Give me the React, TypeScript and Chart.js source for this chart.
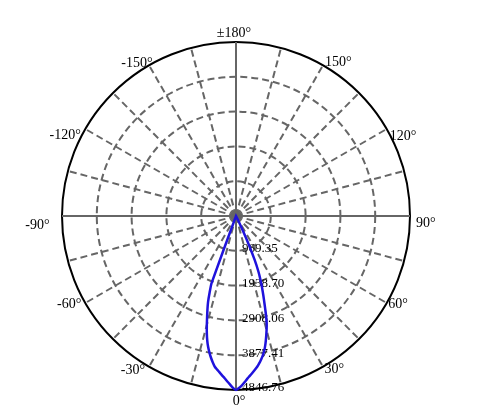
import React, { useEffect, useRef } from "react";
import { Chart, registerables } from "chart.js";

Chart.register(...registerables);

// radial grid, cd
const radialTicks = [0, 969.35, 1938.7, 2908.06, 3877.41, 4846.76];
const radialTickLabels = ["", "969.35", "1938.70", "2908.06", "3877.41", "4846.76"];

// angle labels, degrees (0 at the bottom, +90 on the right)
const angleTicks = [180, 150, 120, 90, 60, 30, 0, -30, -60, -90, -120, -150];
const angleTickLabels = ["±180°", "150°", "120°", "90°", "60°", "30°", "0°", "-30°", "-60°", "-90°", "-120°", "-150°"];

// intensity curve: gamma (deg) -> cd
const beamAngles = [
  180, 150, 120, 90, 60, 30, 28, 27, 26, 25, 24, 23, 22, 21, 20, 19, 18, 17, 16,
  15, 14, 13, 12, 11, 10, 9, 8, 7, 6, 5, 4, 3, 2, 1, 0, -1, -2, -3, -4, -5, -6,
  -7, -8, -9, -10, -11, -12, -13, -14, -15, -16, -17, -18, -19, -20, -21, -22,
  -30, -60, -90, -120, -150,
];
const beamValues = [
  0, 0, 0, 0, 0, 0, 0, 40, 200, 520, 920, 1330, 1660, 1900, 2120, 2340, 2570,
  2840, 3100, 3290, 3470, 3650, 3810, 3940, 4050, 4150, 4240, 4315, 4390, 4465,
  4540, 4630, 4720, 4790, 4846.76, 4790, 4700, 4615, 4530, 4455, 4380, 4310,
  4240, 4130, 4010, 3875, 3730, 3560, 3360, 3140, 2920, 2720, 2520, 2260, 1990,
  0, 0, 0, 0, 0, 0, 0,
];

// one radar slot per degree, 180 at the top, clockwise
const slotAngles: number[] = [];
for (let i = 0; i < 360; i++) slotAngles.push(180 - i);

// text placement next to the outer circle: [align, dx, dy]
const labelStyle: Record<number, [CanvasTextAlign, number, number]> = {
  180: ["center", -2, -9],
  150: ["left", 2, -2.5],
  120: ["left", 3, 7],
  90: ["left", 6, 7.5],
  60: ["left", 1.5, 1.5],
  30: ["left", 1.5, 3],
  0: ["center", 3, 11],
  "-30": ["right", -4, 3.5],
  "-60": ["right", -4, 1.5],
  "-90": ["right", -12.5, 9],
  "-120": ["right", -4.5, 6.5],
  "-150": ["right", 3.5, -1.5],
};

const gridGray = "#666666";
const dash = [7, 4];

const polarText = {
  id: "polarText",
  beforeDatasetsDraw(chart: any) {
    const scale = chart.scales.r;
    const ctx = chart.ctx;
    const R = scale.drawingArea;
    ctx.save();
    ctx.fillStyle = "#000";
    ctx.textBaseline = "middle";
    ctx.font = '14px "Liberation Serif", "Times New Roman", serif';
    angleTicks.forEach((a, k) => {
      const p = scale.getPointPosition(slotAngles.indexOf(a), R);
      const [align, dx, dy] = labelStyle[a];
      ctx.textAlign = align;
      ctx.fillText(angleTickLabels[k], p.x + dx, p.y + dy);
    });
    ctx.font = '13px "Liberation Serif", "Times New Roman", serif';
    ctx.textAlign = "left";
    const down = slotAngles.indexOf(0);
    radialTicks.forEach((v, k) => {
      if (!radialTickLabels[k]) return;
      const p = scale.getPointPosition(down, scale.getDistanceFromCenterForValue(v));
      ctx.fillText(radialTickLabels[k], p.x + 6, p.y - 2);
    });
    ctx.restore();
  },
};

export const PolarCurve: React.FC = () => {
  const canvasRef = useRef<HTMLCanvasElement | null>(null);
  const chartRef = useRef<Chart | null>(null);

  useEffect(() => {
    const ctx = canvasRef.current?.getContext("2d");
    if (!ctx) return;
    if (chartRef.current) chartRef.current.destroy();

    const curve = slotAngles.map((a) => {
      const k = beamAngles.indexOf(a);
      return k >= 0 ? beamValues[k] : null;
    });
    const last = radialTicks.length - 1;

    chartRef.current = new Chart(ctx, {
      type: "radar",
      data: {
        labels: slotAngles.map((a) => a + "°"),
        datasets: [
          {
            label: "C0-C180",
            data: curve,
            borderColor: "#1f12dc",
            borderWidth: 2.5,
            pointRadius: 0,
            fill: false,
            spanGaps: true,
            tension: 0.15,
          },
        ],
      },
      options: {
        animation: false,
        responsive: true,
        maintainAspectRatio: false,
        layout: { padding: { left: 62, right: 70, top: 42, bottom: 26 } },
        plugins: {
          legend: { display: false },
          tooltip: { enabled: false },
        },
        scales: {
          r: {
            min: 0,
            max: radialTicks[last],
            startAngle: 0,
            afterBuildTicks: (s: any) => {
              s.ticks = radialTicks.map((v) => ({ value: v }));
            },
            ticks: { display: false },
            pointLabels: { display: false },
            grid: {
              circular: true,
              color: (c: any) => (c.index === last ? "#000" : gridGray),
              lineWidth: 2,
            },
            border: {
              dash: (c: any) => (c.index === last ? [] : dash),
            },
            angleLines: {
              color: gridGray,
              lineWidth: (c: any) => (c.index % 15 === 0 ? 2 : 0),
              borderDash: (c: any) => (c.index % 90 === 0 ? [] : dash),
            },
          },
        },
      } as any,
      plugins: [polarText],
    });

    return () => {
      if (chartRef.current) {
        chartRef.current.destroy();
        chartRef.current = null;
      }
    };
  }, []);

  return (
    <div style={{ position: "absolute", left: 0, top: 0, width: 480, height: 416 }}>
      <canvas ref={canvasRef}></canvas>
    </div>
  );
};

export default function App() {
  return <PolarCurve />;
}
